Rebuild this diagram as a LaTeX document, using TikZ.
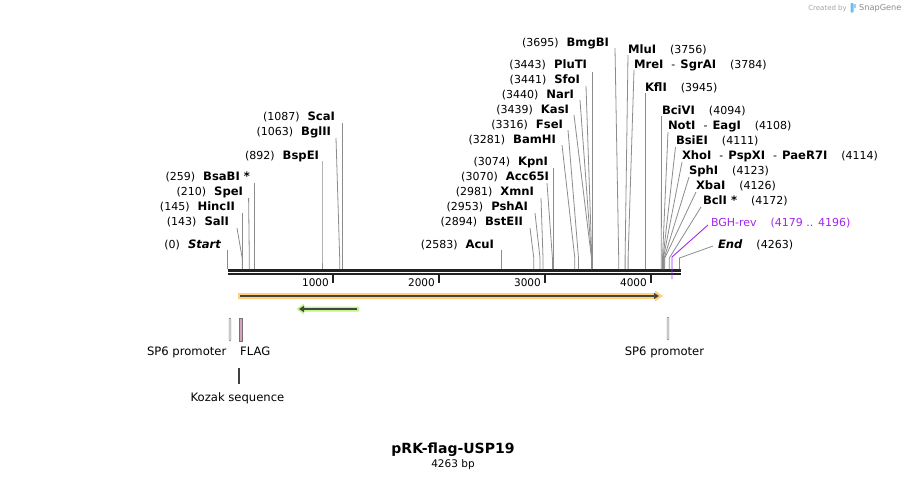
\documentclass[tikz,border=0pt]{standalone}
\usepackage{fontspec}
\setmainfont{DejaVu Sans}
\usetikzlibrary{arrows.meta}
\definecolor{barc}{RGB}{34,34,34}
\definecolor{linec}{RGB}{140,140,140}
\definecolor{purp}{RGB}{160,40,240}
\definecolor{orhl}{RGB}{255,208,125}
\definecolor{grhl}{RGB}{190,245,140}
\definecolor{darkarr}{RGB}{70,70,60}
\definecolor{flagc}{RGB}{215,160,190}
\definecolor{snapblue}{RGB}{110,190,240}
\newcommand{\rsz}{\fontsize{11}{12}\selectfont}
\newcommand{\bsz}{\fontsize{11.6}{12}\selectfont\bfseries}
\newcommand{\pos}[1]{{\rsz(#1)}}
\newcommand{\nm}[1]{{\bsz #1}}
\newcommand{\lgap}{\hspace{8pt}}
\newcommand{\rgap}{\hspace{14pt}}
\newcommand{\dsh}{\hspace{8pt}{\rsz -}\hspace{5pt}}
% left-labelled site: id, bar x, top x, top y, label end x, label y, text
\newcommand{\lsite}[7]{%
  \node[lbl,anchor=base east] (#1) at (#5,#6+4) {#7};
  \coordinate (#1top) at (#3,#4);
  \coordinate (#1kink) at (#2,258);
  \coordinate (#1bar) at (#2,269);
  \draw[siteline] (#1top) -- (#1kink) -- (#1bar);
}
% right-labelled site: id, bar x, top x, top y, label start x, label y, text
\newcommand{\rsite}[7]{%
  \node[lbl,anchor=base west] (#1) at (#5,#6+4) {#7};
  \coordinate (#1top) at (#3,#4);
  \coordinate (#1kink) at (#2,258);
  \coordinate (#1bar) at (#2,269);
  \draw[siteline] (#1top) -- (#1kink) -- (#1bar);
}
\tikzset{
  lbl/.style={inner sep=0pt, outer sep=0pt, text=black},
  siteline/.style={draw=linec, line width=0.8pt},
  seqbar/.style={draw=barc, line width=2.3pt},
  tickmark/.style={draw=barc, line width=1.5pt},
  ticklbl/.style={inner sep=0pt, anchor=base east, font=\fontsize{10.5}{12}\selectfont},
  featlbl/.style={inner sep=0pt, font=\fontsize{11.6}{13}\selectfont},
  promoter/.style={draw=black!50, fill=black!6, line width=0.5pt, inner sep=0pt, minimum width=1.8pt, minimum height=23pt, rounded corners=0.8pt},
}
\begin{document}
\begin{tikzpicture}[x=1pt,y=-1pt]
\useasboundingbox (0,0) rectangle (908,479);
\fill[white] (0,0) rectangle (908,479);

% Created by SnapGene
\node[inner sep=0pt, anchor=base east, text=black!35, font=\fontsize{7}{8}\selectfont] (created) at (847,10) {Created by};
\fill[snapblue, rounded corners=0.8pt] (850.5,3) rectangle (853.5,12.5);
\fill[snapblue!70] (853,3.5) rectangle (856,8) ;
\node[inner sep=0pt, anchor=base west, text=black!45, font=\fontsize{8.2}{9}\selectfont] (snapgene) at (859,10.5) {SnapGene};

% sequence bar
\coordinate (barL1) at (227.5,270.5);
\coordinate (barR1) at (681,270.5);
\coordinate (barL2) at (227.5,274);
\coordinate (barR2) at (681,274);
\draw[seqbar] (barL1) -- (barR1);
\draw[seqbar] (barL2) -- (barR2);

% ticks
\foreach \tx/\tl in {333/1000, 439/2000, 545/3000, 651/4000}{
  \draw[tickmark] (\tx,275) -- (\tx,283);
  \node[ticklbl] (t\tl) at (\tx-4,286) {\tl};
}

% left-labelled sites
\lsite{start}{227.5}{227.5}{250}{221}{244}{\pos{0}\lgap{\bsz\itshape Start}}
\lsite{sali}{242.2}{237}{228}{229}{221}{\pos{143}\lgap\nm{SalI}}
\lsite{hincii}{242.6}{242.6}{213}{235}{206}{\pos{145}\lgap\nm{HincII}}
\lsite{spei}{249.3}{248.6}{198}{243}{191}{\pos{210}\lgap\nm{SpeI}}
\lsite{bsabi}{254.5}{254.5}{183}{250}{176}{\pos{259}\lgap\nm{BsaBI *}}
\lsite{bspei}{322}{322}{161}{319}{155}{\pos{892}\lgap\nm{BspEI}}
\lsite{bglii}{339.7}{336}{138}{331}{131}{\pos{1063}\lgap\nm{BglII}}
\lsite{scai}{342.5}{342.5}{123}{335}{116}{\pos{1087}\lgap\nm{ScaI}}
\lsite{acui}{501.5}{501.5}{250}{494}{244}{\pos{2583}\lgap\nm{AcuI}}
\lsite{bsteii}{533.8}{530}{228}{523}{221}{\pos{2894}\lgap\nm{BstEII}}
\lsite{pshai}{540}{535}{213}{528}{206}{\pos{2953}\lgap\nm{PshAI}}
\lsite{xmni}{543}{541}{198}{534}{191}{\pos{2981}\lgap\nm{XmnI}}
\lsite{acc}{552.4}{547}{183}{549}{176}{\pos{3070}\lgap\nm{Acc65I}}
\lsite{kpni}{553.2}{553.2}{168}{548}{161}{\pos{3074}\lgap\nm{KpnI}}
\lsite{bamhi}{574.8}{562}{145}{556}{139}{\pos{3281}\lgap\nm{BamHI}}
\lsite{fsei}{578.5}{568}{130}{563}{124}{\pos{3316}\lgap\nm{FseI}}
\lsite{kasi}{591.5}{574}{115}{569}{109}{\pos{3439}\lgap\nm{KasI}}
\lsite{nari}{591.6}{580}{100}{574}{94}{\pos{3440}\lgap\nm{NarI}}
\lsite{sfoi}{591.8}{586}{86}{580}{79}{\pos{3441}\lgap\nm{SfoI}}
\lsite{pluti}{592.2}{592.2}{72}{587}{64}{\pos{3443}\lgap\nm{PluTI}}
\lsite{bmgbi}{618.7}{615}{48}{609}{42}{\pos{3695}\lgap\nm{BmgBI}}

% right-labelled sites
\rsite{mlui}{625.1}{628}{55}{628}{49}{\nm{MluI}\rgap\pos{3756}}
\rsite{mrei}{628.1}{634}{70}{634}{64}{\nm{MreI}\dsh\nm{SgrAI}\rgap\pos{3784}}
\rsite{kfli}{645.2}{645.2}{93}{645}{87}{\nm{KflI}\rgap\pos{3945}}
\rsite{bcivi}{661.3}{661.5}{116}{662}{110}{\nm{BciVI}\rgap\pos{4094}}
\rsite{noti}{662.5}{668}{132}{668}{125}{\nm{NotI}\dsh\nm{EagI}\rgap\pos{4108}}
\rsite{bsiei}{663}{675.5}{147}{676}{140}{\nm{BsiEI}\rgap\pos{4111}}
\rsite{xhoi}{663.4}{682}{162}{682}{155}{\nm{XhoI}\dsh\nm{PspXI}\dsh\nm{PaeR7I}\rgap\pos{4114}}
\rsite{sphi}{664.2}{689}{177}{689}{170}{\nm{SphI}\rgap\pos{4123}}
\rsite{xbai}{664.8}{696}{192}{696}{185}{\nm{XbaI}\rgap\pos{4126}}
\rsite{bcli}{669.3}{701}{207}{703}{200}{\nm{BclI *}\rgap\pos{4172}}
\rsite{endp}{679.5}{713}{246}{718}{244}{{\bsz\itshape End}\rgap\pos{4263}}

% BGH-rev primer
\node[lbl,anchor=base west,text=purp] (bgh) at (711,226) {{\rsz BGH-rev}\hspace{14pt}{\rsz(4179 .. 4196)}};
\coordinate (bghtop) at (708,225);
\coordinate (bghkink) at (672,257);
\coordinate (bghbot) at (672,279);
\draw[draw=purp, line width=0.9pt] (bghtop) -- (bghkink) -- (bghbot);

% orange feature arrow
\fill[orhl] (238,293) -- (655,293) -- (655,290.5) -- (663,296) -- (655,301.5) -- (655,299) -- (238,299) -- cycle;
\draw[darkarr, line width=1.8pt, -{Triangle[length=5pt,width=6pt]}] (240,296) -- (659,296);

% green feature arrow
\fill[grhl] (359,306.5) -- (304,306.5) -- (304,303.5) -- (296.5,309) -- (304,314.5) -- (304,311.5) -- (359,311.5) -- cycle;
\draw[darkarr, line width=1.8pt, -{Triangle[length=5pt,width=6pt]}] (357,309) -- (299,309);

% features below
\node[promoter] (sp6a) at (230,329.5) {};
\node[draw=black!55, fill=flagc, line width=0.5pt, inner sep=0pt, minimum width=2.4pt, minimum height=23pt] (flag) at (240.8,329.5) {};
\node[promoter] (sp6b) at (668,328.5) {};
\coordinate (kozT) at (239,368);
\coordinate (kozB) at (239,384);
\draw[draw=black!75, line width=1.6pt] (kozT) -- (kozB);

\node[featlbl, anchor=base east] (sp6alabel) at (226.5,355.5) {SP6 promoter};
\node[featlbl, anchor=base west] (flaglabel) at (240,355.5) {FLAG};
\node[featlbl, anchor=base] (sp6blabel) at (664.5,355.5) {SP6 promoter};
\node[featlbl, anchor=base] (kozlabel) at (237.5,401.5) {Kozak sequence};

% title
\node[inner sep=0pt, anchor=base, font=\fontsize{14}{16}\selectfont\bfseries] (title) at (453,453.5) {pRK-flag-USP19};
\node[inner sep=0pt, anchor=base, font=\fontsize{10.5}{12}\selectfont] (bp) at (453,467) {4263 bp};
\end{tikzpicture}
\end{document}
